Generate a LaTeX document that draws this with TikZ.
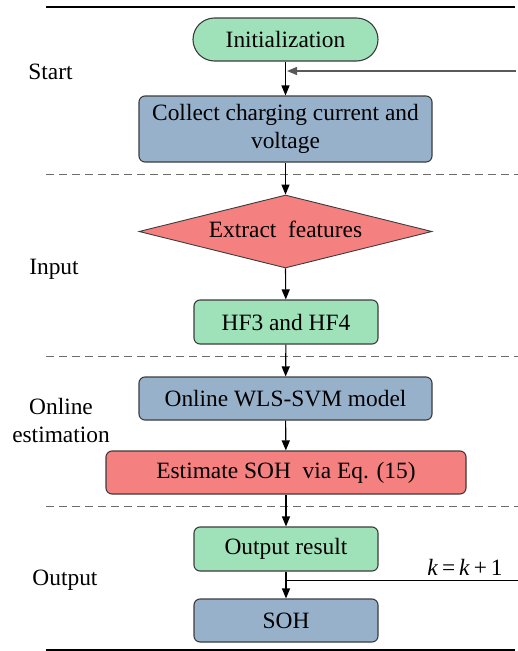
\documentclass[tikz,border=0pt]{standalone}
\usepackage{fontspec}
\setmainfont{Liberation Serif}
\usetikzlibrary{shapes.geometric,arrows.meta}
\definecolor{cgreen}{RGB}{159,226,185}
\definecolor{cblue}{RGB}{152,177,203}
\definecolor{cred}{RGB}{245,128,128}
\definecolor{cedge}{RGB}{60,60,60}
\begin{document}
\begin{tikzpicture}[x=1pt,y=-1pt,
  font=\fontsize{23.4}{28}\selectfont,
  box/.style={draw=cedge,line width=1.1pt,rounded corners=6pt,align=center,inner sep=0pt},
  stadium/.style={draw=cedge,line width=1.1pt,rounded corners=21.5pt,inner sep=0pt},
  diam/.style={diamond,draw=cedge,line width=0.9pt,inner sep=0pt,aspect=4.0},
  flow/.style={line width=1.1pt,-{Triangle[length=10pt,width=8pt]}},
  sep/.style={draw=gray!85!black,line width=1pt,dash pattern=on 8pt off 5pt},
  rule/.style={line width=1.5pt},
  lab/.style={align=center}]
\useasboundingbox (0,0) rectangle (518,651);
% rules
\draw[rule] (46,7) -- (515,7);
\draw[rule] (46,650) -- (515,650);
\draw[sep] (46,174) -- (518,174);
\draw[sep] (46,356) -- (518,356);
\draw[sep] (46,506) -- (518,506);
% nodes
\node[stadium,fill=cgreen,minimum width=185pt,minimum height=43pt] (init) at (285.5,39.5) {Initialization};
\node[box,fill=cblue,minimum width=293pt,minimum height=66pt] (col) at (285.5,129) {Collect charging current and\\voltage};
\node[diam,fill=cred,minimum width=293pt,minimum height=73pt] (ext) at (285.5,231.5) {};
\node at (285.5,229) {Extract\ \ features};
\node[box,fill=cgreen,minimum width=184pt,minimum height=44pt] (hf) at (286,322) {HF3 and HF4};
\node[box,fill=cblue,minimum width=293pt,minimum height=43pt] (onl) at (285.5,398.5) {Online WLS-SVM model};
\node[box,fill=cred,minimum width=360pt,minimum height=43pt] (est) at (286,472.5) {Estimate SOH\ \ via Eq. (15)};
\node[box,fill=cgreen,minimum width=184pt,minimum height=44pt] (out) at (286,549) {Output result};
\node[box,fill=cblue,minimum width=184pt,minimum height=43pt] (soh) at (286,620.5) {SOH};
% side labels
\node[lab] (lstart) at (50.5,72) {Start};
\node[lab] (linput) at (54,269) {Input};
\node[lab] (lonl) at (61,420) {Online\\estimation};
\node[lab] (lout) at (65,580) {Output};
\node (kk) at (465,567) {\textit{k}\,=\,\textit{k}\,+\,1};
% connectors
\draw[flow] (init) -- (col);
\draw[flow] (col) -- (ext.north);
\draw[flow] (ext.south) -- (hf);
\draw[flow] (hf) -- (onl);
\draw[flow] (onl) -- (est);
\draw[flow] (est) -- (out);
\draw[flow] (out) -- (soh);
\coordinate (fbin) at (516,71);
\coordinate (fbtgt) at (286,71);
\coordinate (brsrc) at (286,580);
\coordinate (brend) at (518,580);
\draw[line width=1.3pt,draw=gray!70!black,-{Triangle[length=10pt,width=8pt]}] (fbin) -- ([xshift=1pt]fbtgt);
\draw[line width=1pt] (brsrc) -- (brend);
\end{tikzpicture}
\end{document}
